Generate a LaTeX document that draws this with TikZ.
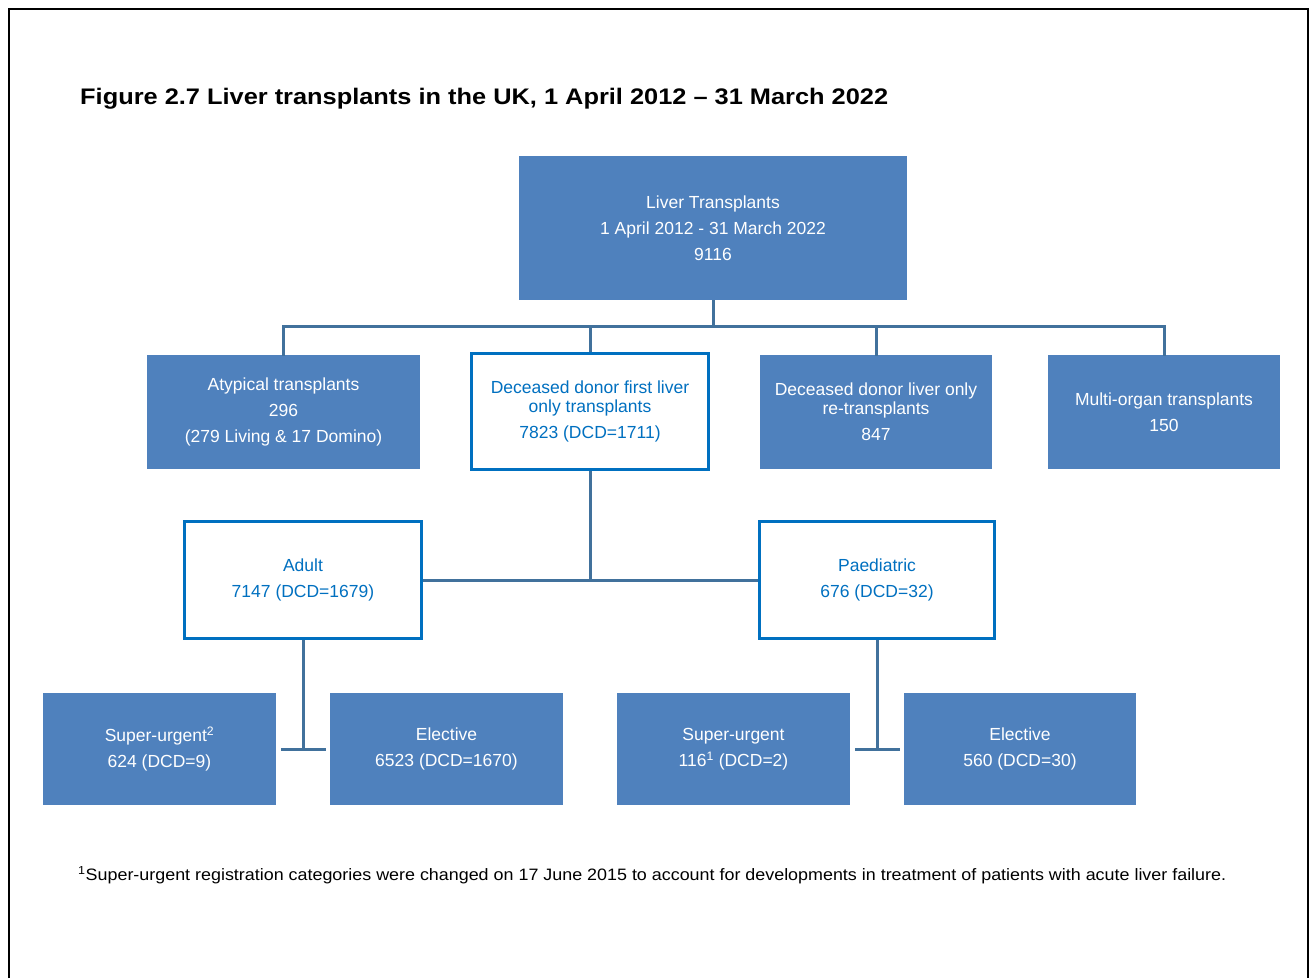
\documentclass[tikz,border=0pt]{standalone}
\usepackage{fontspec}
\setmainfont{Liberation Sans}
\usepackage{graphicx}
\definecolor{boxfill}{HTML}{4F81BD}
\definecolor{conncol}{HTML}{41719C}
\definecolor{edgeblue}{HTML}{0070C0}
\begin{document}
\begin{tikzpicture}[x=1pt,y=-1pt,
  filled/.style={fill=boxfill,draw=none,inner sep=0pt,text=white,align=center,
    font=\fontsize{17.5}{26}\selectfont},
  outlined/.style={fill=white,draw=edgeblue,line width=3pt,inner sep=0pt,text=edgeblue,align=center,
    font=\fontsize{17.5}{26}\selectfont},
  conn/.style={draw=conncol,line width=3pt}]
\useasboundingbox (0,0) rectangle (1311,978);
% frame
\draw[line width=2pt,black] (9,978) -- (9,9) -- (1308,9) -- (1308,978);
% title
\node[anchor=west,inner sep=0pt] (title) at (80,99)
  {\resizebox{808pt}{\height}{\bfseries\fontsize{22.5}{26}\selectfont Figure 2.7 Liver transplants in the UK, 1 April 2012 – 31 March 2022}};
% boxes
\node[filled,minimum width=388pt,minimum height=144pt] (top) at (713,228)
  {Liver Transplants\\1 April 2012 - 31 March 2022\\9116};
\node[filled,minimum width=273pt,minimum height=114pt] (atyp) at (283.5,412)
  {Atypical transplants\\296\\(279 Living \& 17 Domino)};
\node[outlined,minimum width=237pt,minimum height=116pt] (dfirst) at (590,411.5)
  {Deceased donor first liver\\[-7pt]only transplants\\7823 (DCD=1711)};
\node[filled,minimum width=232pt,minimum height=114pt] (retx) at (876,412)
  {Deceased donor liver only\\[-7pt]re-transplants\\847};
\node[filled,minimum width=232pt,minimum height=114pt] (multi) at (1164,412)
  {Multi-organ transplants\\150};
\node[outlined,minimum width=237pt,minimum height=117pt] (adult) at (303,580)
  {Adult\\7147 (DCD=1679)};
\node[outlined,minimum width=235pt,minimum height=117pt] (paed) at (877,580)
  {Paediatric\\676 (DCD=32)};
\node[filled,minimum width=233pt,minimum height=112pt] (asu) at (159.5,749)
  {Super-urgent\textsuperscript{2}\\624 (DCD=9)};
\node[filled,minimum width=233pt,minimum height=112pt] (ael) at (446.5,749)
  {Elective\\6523 (DCD=1670)};
\node[filled,minimum width=233pt,minimum height=112pt] (psu) at (733.5,749)
  {Super-urgent\\116\textsuperscript{1} (DCD=2)};
\node[filled,minimum width=232pt,minimum height=112pt] (pel) at (1020,749)
  {Elective\\560 (DCD=30)};
% connectors
\coordinate (bus) at (0,326);
\coordinate (mid) at (0,580);
\draw[conn] (top.south) -- (top.south |- bus);
\draw[conn] ([yshift=-1pt]atyp.north) -- (atyp.north |- bus) -| ([yshift=-1pt]multi.north);
\draw[conn] (dfirst.north) -- (dfirst.north |- bus);
\draw[conn] ([yshift=-1pt]retx.north) -- (retx.north |- bus);
\draw[conn] (dfirst.south) -- (dfirst.south |- mid);
\draw[conn] (adult.east) -- (paed.west);
\draw[conn] (adult.south) -- (adult.south |- asu.east);
\draw[conn] ([xshift=5pt]asu.east) -- ([xshift=-4pt]ael.west);
\draw[conn] (paed.south) -- (paed.south |- psu.east);
\draw[conn] ([xshift=5pt]psu.east) -- ([xshift=-4pt]pel.west);
% footnote
\node[anchor=west,inner sep=0pt] (foot) at (78,875)
  {\resizebox{1148pt}{\height}{\fontsize{16.5}{19}\selectfont\textsuperscript{1}Super-urgent registration categories were changed on 17 June 2015 to account for developments in treatment of patients with acute liver failure.}};
\end{tikzpicture}
\end{document}
